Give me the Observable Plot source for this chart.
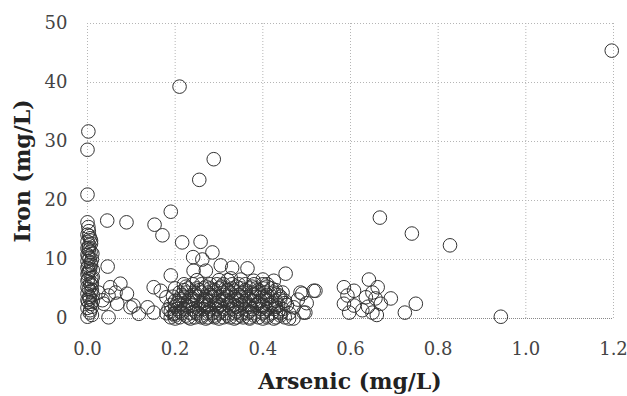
<!DOCTYPE html>
<html>
<head>
<meta charset="utf-8">
<script src="https://cdn.jsdelivr.net/npm/d3@7"></script>
<script src="https://cdn.jsdelivr.net/npm/@observablehq/plot@0.6"></script>
<style>
  body { margin: 0; background: #fff; }
  #chart svg { display: block; }
</style>
</head>
<body>
<div id="chart"></div>
<script>
// Axis ticks
const xTicks = [0, 0.2, 0.4, 0.6, 0.8, 1.0, 1.2];
const yTicks = [0, 10, 20, 30, 40, 50];
const xTitle = "Arsenic (mg/L)";
const yTitle = "Iron (mg/L)";

// Wells with arsenic near zero: [arsenic, iron]
const nearZero = [
  [0, 0.3], [0.005, 1.0], [0, 1.8], [0.008, 2.5], [0, 3.1], [0.004, 3.7], [0, 4.2], [0.01, 4.8],
  [0, 5.3], [0.006, 5.9], [0, 6.4], [0.009, 6.9], [0, 7.5], [0.004, 8.0], [0, 8.6], [0.008, 9.1],
  [0, 9.7], [0.005, 10.2], [0, 10.8], [0.007, 11.3], [0, 11.9], [0.004, 12.4], [0, 13.0], [0.006, 13.6],
  [0, 14.2], [0.003, 14.8], [0, 16.3], [0, 21.0], [0, 28.6], [0.002, 31.7],
  [0.01, 2.0], [0.012, 4.0], [0.01, 6.0], [0.012, 8.2], [0.01, 10.0], [0.003, 12.0], [0.012, 7.0],
  [0.002, 9.0], [0.003, 5.0], [0.012, 3.0], [0.011, 11.0], [0.002, 15.5], [0.01, 0.6],
  [0.006, 1.4], [0.002, 2.8], [0.007, 4.5], [0.002, 6.7], [0.006, 8.4], [0.002, 10.5], [0.008, 12.7],
  [0.004, 14.0], [0.009, 5.6], [0.002, 7.8], [0.007, 9.5], [0.003, 11.6], [0.008, 13.2], [0.005, 3.4]
];

// Scattered wells outside the main cluster: [arsenic, iron]
const scattered = [
  [0.21, 39.3], [0.288, 27.0], [0.255, 23.5], [1.196, 45.4],
  [0.19, 18.1], [0.045, 16.6], [0.089, 16.3], [0.153, 15.9], [0.171, 14.1],
  [0.216, 12.9], [0.258, 13.0], [0.285, 11.2], [0.241, 10.4], [0.262, 10.0],
  [0.304, 9.0], [0.33, 8.6], [0.365, 8.5], [0.452, 7.6], [0.046, 8.8],
  [0.19, 7.3], [0.242, 8.1], [0.27, 8.1], [0.327, 6.8], [0.35, 6.6], [0.379, 6.4],
  [0.40, 6.6], [0.425, 6.4], [0.516, 4.7], [0.486, 4.4], [0.47, 1.9], [0.493, 1.0], [0.47, 0.0],
  [0.151, 5.3], [0.137, 1.9], [0.117, 0.8], [0.105, 2.2], [0.09, 4.2], [0.075, 5.9],
  [0.052, 5.3], [0.048, 3.9], [0.037, 2.5], [0.048, 0.2], [0.025, 4.4], [0.064, 4.4],
  [0.167, 4.7], [0.151, 1.0], [0.18, 3.6], [0.197, 0.8], [0.068, 2.5], [0.034, 3.1], [0.098, 1.9],
  [0.667, 17.1], [0.74, 14.4], [0.827, 12.4], [0.943, 0.3],
  [0.642, 6.6], [0.585, 5.3], [0.593, 3.9], [0.585, 2.5], [0.597, 1.0], [0.608, 2.2],
  [0.627, 1.4], [0.635, 3.6], [0.65, 4.4], [0.657, 3.4], [0.65, 1.0], [0.669, 2.5],
  [0.692, 3.4], [0.749, 2.5], [0.724, 1.0], [0.52, 4.7], [0.49, 4.2], [0.497, 1.0],
  [0.608, 4.7], [0.662, 5.3], [0.5, 2.6], [0.48, 3.2], [0.64, 2.0], [0.66, 0.6]
];

// Main cluster, listed by iron level: [iron, [arsenic values]]
const clusterRows = [
  [0.0, [0.2, 0.235, 0.27, 0.3, 0.335, 0.37, 0.4, 0.425, 0.46]],
  [0.2, [0.19, 0.21, 0.23, 0.245, 0.26, 0.275, 0.29, 0.31, 0.325, 0.34, 0.355, 0.37, 0.39, 0.41, 0.43, 0.45]],
  [0.5, [0.2, 0.225, 0.26, 0.29, 0.32, 0.35, 0.38, 0.41, 0.44]],
  [0.9, [0.18, 0.2, 0.215, 0.235, 0.25, 0.27, 0.285, 0.3, 0.315, 0.335, 0.35, 0.365, 0.38, 0.4, 0.42, 0.44, 0.46]],
  [1.2, [0.19, 0.21, 0.245, 0.275, 0.305, 0.34, 0.37, 0.405, 0.435]],
  [1.6, [0.185, 0.205, 0.22, 0.24, 0.255, 0.265, 0.28, 0.295, 0.31, 0.33, 0.345, 0.36, 0.375, 0.395, 0.41, 0.425, 0.445]],
  [2.0, [0.2, 0.23, 0.27, 0.3, 0.34, 0.37, 0.4, 0.43]],
  [2.3, [0.19, 0.21, 0.225, 0.24, 0.26, 0.275, 0.29, 0.305, 0.32, 0.335, 0.35, 0.37, 0.385, 0.4, 0.415, 0.435, 0.455]],
  [2.6, [0.205, 0.235, 0.265, 0.295, 0.325, 0.355, 0.39, 0.42, 0.45]],
  [3.0, [0.2, 0.215, 0.23, 0.25, 0.265, 0.28, 0.3, 0.315, 0.33, 0.345, 0.36, 0.38, 0.395, 0.41, 0.43, 0.45]],
  [3.3, [0.21, 0.24, 0.27, 0.31, 0.34, 0.37, 0.405, 0.44]],
  [3.7, [0.195, 0.22, 0.235, 0.25, 0.27, 0.285, 0.3, 0.32, 0.335, 0.35, 0.365, 0.385, 0.4, 0.42, 0.44]],
  [4.0, [0.215, 0.245, 0.28, 0.31, 0.345, 0.38, 0.41, 0.435]],
  [4.4, [0.21, 0.225, 0.245, 0.26, 0.275, 0.29, 0.31, 0.325, 0.34, 0.355, 0.375, 0.39, 0.405, 0.425, 0.445]],
  [4.8, [0.22, 0.255, 0.29, 0.32, 0.36, 0.39, 0.43]],
  [5.1, [0.2, 0.23, 0.25, 0.265, 0.28, 0.3, 0.315, 0.33, 0.35, 0.37, 0.385, 0.4, 0.42]],
  [5.4, [0.225, 0.27, 0.305, 0.34, 0.375, 0.41]],
  [5.8, [0.22, 0.24, 0.26, 0.28, 0.295, 0.31, 0.33, 0.345, 0.36, 0.38, 0.4, 0.41]],
  [6.5, [0.25, 0.3, 0.32]]
];

const data = [
  ...nearZero.map(([a, f]) => ({arsenic: a, iron: f})),
  ...scattered.map(([a, f]) => ({arsenic: a, iron: f})),
  ...clusterRows.flatMap(([f, as]) => as.map(a => ({arsenic: a, iron: f})))
];

const serif = "'DejaVu Serif', 'Liberation Serif', serif";

const chart = Plot.plot({
  width: 627,
  height: 396,
  marginLeft: 87,
  marginRight: 14,
  marginTop: 23,
  marginBottom: 78,
  style: {fontFamily: serif, background: "#fff"},
  x: {domain: [0, 1.2], ticks: xTicks},
  y: {domain: [0, 50], ticks: yTicks},
  marks: [
    Plot.gridX(xTicks, {stroke: "#b5b5b5", strokeOpacity: 1, strokeDasharray: "1,2", strokeWidth: 1}),
    Plot.gridY(yTicks.filter(d => d > 0), {stroke: "#b5b5b5", strokeOpacity: 1, strokeDasharray: "1,2", strokeWidth: 1}),
    Plot.ruleY([0], {stroke: "#888", strokeDasharray: "1,1"}),
    Plot.axisX({ticks: xTicks, tickSize: 0, tickPadding: 24, tickFormat: d3.format(".1f"), label: null, fontSize: 18, fill: "#444"}),
    Plot.axisY({ticks: yTicks, tickSize: 0, tickPadding: 20, label: null, fontSize: 18, fill: "#444"}),
    Plot.dot(data, {x: "arsenic", y: "iron", r: 6.8, stroke: "#333", strokeWidth: 1, fill: "none"})
  ]
});

const svg = d3.select(chart);
svg.append("text")
  .attr("x", 350).attr("y", 389)
  .attr("text-anchor", "middle")
  .attr("font-family", serif).attr("font-size", 22).attr("font-weight", "bold").attr("fill", "#222")
  .text(xTitle);
svg.append("text")
  .attr("transform", "translate(30,171) rotate(-90)")
  .attr("text-anchor", "middle")
  .attr("font-family", serif).attr("font-size", 22).attr("font-weight", "bold").attr("fill", "#222")
  .text(yTitle);

document.getElementById("chart").appendChild(chart);
</script>
</body>
</html>
